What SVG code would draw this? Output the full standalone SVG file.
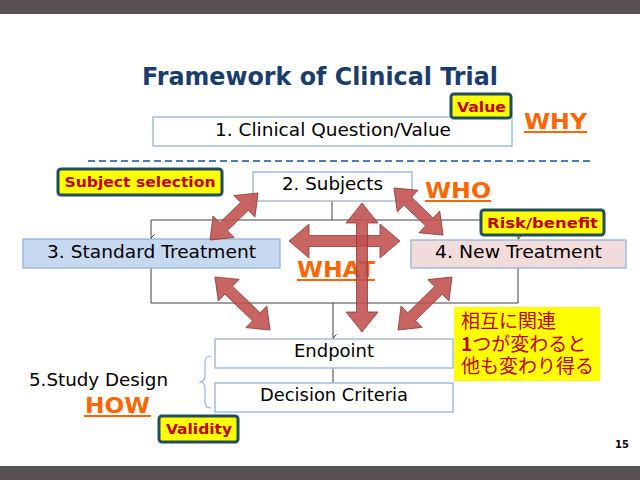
<svg xmlns="http://www.w3.org/2000/svg" width="640" height="480" viewBox="0 0 640 480">
<defs>
<style>
.box{stroke:#95b3d7;stroke-width:1.3}
.t{font-family:"DejaVu Sans","Liberation Sans",sans-serif;font-size:18.5px;fill:#000}
.em{font-family:"DejaVu Sans","Liberation Sans",sans-serif;font-weight:bold;font-size:22px;fill:#ff6600}
.ul{stroke:#ff6600;stroke-width:2}
.badge rect{fill:#ffff00;stroke:#1f4e5f;stroke-width:3}
.badge text{font-family:"DejaVu Sans","Liberation Sans",sans-serif;font-weight:bold;font-size:14px;fill:#c00000;text-anchor:middle}
.conn{fill:none;stroke:#404040;stroke-width:1}
.arr{fill:#c0504d;fill-opacity:0.88;stroke:#8c3a38;stroke-width:0.8}
.jp{font-family:"Noto Sans CJK JP",sans-serif;font-size:19px;fill:#c00000}
</style>
<marker id="ah" viewBox="0 0 8 8" refX="4" refY="7" markerWidth="8" markerHeight="8" markerUnits="userSpaceOnUse" orient="auto-start-reverse">
<path d="M0.5,3.5 L4,7 L7.5,3.5" fill="none" stroke="#404040" stroke-width="1"/>
</marker>
</defs>
<rect x="0" y="0" width="640" height="480" fill="#ffffff"/>
<rect x="0" y="0" width="640" height="14" fill="#595054"/>
<rect x="0" y="466" width="640" height="14" fill="#595054"/>
<text x="320" y="85" text-anchor="middle" textLength="356" lengthAdjust="spacingAndGlyphs" font-family="DejaVu Sans, Liberation Sans, sans-serif" font-weight="bold" font-size="25" fill="#1b3c6e">Framework of Clinical Trial</text>
<line x1="88" y1="161" x2="590" y2="161" stroke="#4a7ebb" stroke-width="2" stroke-dasharray="7,4"/>
<g id="connectors">
<path class="conn" d="M332,201 V220 M151,220 H518"/>
<path class="conn" d="M151,220 V238" marker-end="url(#ah)"/>
<path class="conn" d="M518,220 V239" marker-end="url(#ah)"/>
<path class="conn" d="M151,268 V303 H518 V268"/>
<path class="conn" d="M333,303 V338" marker-end="url(#ah)"/>
<path class="conn" d="M333,368 V383"/>
<path d="M211,356 Q205,356 205,362 V376 Q205,382 199,382 Q205,382 205,388 V402 Q205,408 211,408" fill="none" stroke="#8eb4e3" stroke-width="1.2"/>
</g>
<g id="n1"><rect class="box" x="153" y="117" width="359" height="29" fill="#ffffff"/><text class="t" x="333" y="136" text-anchor="middle" textLength="236" lengthAdjust="spacingAndGlyphs">1. Clinical Question/Value</text></g>
<g id="n2"><rect class="box" x="253" y="172" width="159" height="29" fill="#ffffff"/><text class="t" x="332.5" y="190" text-anchor="middle" textLength="101" lengthAdjust="spacingAndGlyphs">2. Subjects</text></g>
<g id="n3"><rect class="box" x="23" y="239" width="257" height="29" fill="#c6d9f1"/><text class="t" x="151.5" y="258" text-anchor="middle" textLength="209" lengthAdjust="spacingAndGlyphs">3. Standard Treatment</text></g>
<g id="n4"><rect class="box" x="411" y="240" width="215" height="28" fill="#f2dcdb"/><text class="t" x="518.5" y="258" text-anchor="middle" textLength="167" lengthAdjust="spacingAndGlyphs">4. New Treatment</text></g>
<g id="n5"><rect class="box" x="215" y="339" width="238" height="29" fill="#ffffff"/><text class="t" x="334" y="357" text-anchor="middle" textLength="80" lengthAdjust="spacingAndGlyphs">Endpoint</text></g>
<g id="n6"><rect class="box" x="215" y="383" width="238" height="29" fill="#ffffff"/><text class="t" x="334" y="401" text-anchor="middle" textLength="148" lengthAdjust="spacingAndGlyphs">Decision Criteria</text></g>
<g id="studydesign"><text class="t" x="29" y="386" textLength="139" lengthAdjust="spacingAndGlyphs">5.Study Design</text></g>
<g id="why"><text class="em" x="524" y="129" textLength="63" lengthAdjust="spacingAndGlyphs">WHY</text><line class="ul" x1="524" y1="132" x2="587" y2="132"/></g>
<g id="who"><text class="em" x="425" y="198" textLength="66" lengthAdjust="spacingAndGlyphs">WHO</text><line class="ul" x1="425" y1="201" x2="491" y2="201"/></g>
<g id="what"><text class="em" x="297" y="277" textLength="78" lengthAdjust="spacingAndGlyphs">WHAT</text><line class="ul" x1="297" y1="280" x2="375" y2="280"/></g>
<g id="how"><text class="em" x="85" y="413" textLength="65" lengthAdjust="spacingAndGlyphs">HOW</text><line class="ul" x1="84" y1="416" x2="151" y2="416"/></g>
<g id="arrows">
<path class="arr" transform="translate(234,216.5) rotate(135.6)" d="M-33.6,0 L-14.6,-15 L-14.6,-5.5 L14.6,-5.5 L14.6,-15 L33.6,0 L14.6,15 L14.6,5.5 L-14.6,5.5 L-14.6,15 Z"/>
<path class="arr" transform="translate(242.5,303.5) rotate(43.9)" d="M-38.2,0 L-19.2,-15 L-19.2,-5.5 L19.2,-5.5 L19.2,-15 L38.2,0 L19.2,15 L19.2,5.5 L-19.2,5.5 L-19.2,15 Z"/>
<path class="arr" transform="translate(418.5,211.5) rotate(43.8)" d="M-34,0 L-15,-15 L-15,-5.5 L15,-5.5 L15,-15 L34,0 L15,15 L15,5.5 L-15,5.5 L-15,15 Z"/>
<path class="arr" transform="translate(425,303.5) rotate(135.5)" d="M-37.8,0 L-18.8,-15 L-18.8,-5.5 L18.8,-5.5 L18.8,-15 L37.8,0 L18.8,15 L18.8,5.5 L-18.8,5.5 L-18.8,15 Z"/>
<path class="arr" transform="translate(344.5,241)" d="M-55.5,0 L-35.5,-17 L-35.5,-5.5 L35.5,-5.5 L35.5,-17 L55.5,0 L35.5,17 L35.5,5.5 L-35.5,5.5 L-35.5,17 Z"/>
<path class="arr" transform="translate(362,267.5) rotate(90)" d="M-64.5,0 L-44.5,-16 L-44.5,-5.5 L44.5,-5.5 L44.5,-16 L64.5,0 L44.5,16 L44.5,5.5 L-44.5,5.5 L-44.5,16 Z"/>
</g>
<g id="b-value" class="badge"><rect x="451" y="94" width="60" height="24" rx="3"/><text x="481.5" y="112" textLength="49" lengthAdjust="spacingAndGlyphs">Value</text></g>
<g id="b-subject" class="badge"><rect x="58" y="169" width="164" height="26" rx="3"/><text x="140" y="187" textLength="151" lengthAdjust="spacingAndGlyphs">Subject selection</text></g>
<g id="b-risk" class="badge"><rect x="481" y="210" width="123" height="25" rx="3"/><text x="542.5" y="228" textLength="111" lengthAdjust="spacingAndGlyphs">Risk/benefit</text></g>
<g id="b-validity" class="badge"><rect x="159" y="416" width="79" height="26" rx="3"/><text x="199" y="434" textLength="66" lengthAdjust="spacingAndGlyphs">Validity</text></g>
<g id="note">
<rect x="454" y="307" width="146" height="74" fill="#ffff00"/>
<text class="jp" x="461" y="328"><tspan x="461" y="328">相互に関連</tspan><tspan x="461" y="351"><tspan font-weight="bold">1</tspan>つが変わると</tspan><tspan x="461" y="373">他も変わり得る</tspan></text>
</g>
<text x="629" y="448" text-anchor="end" font-family="DejaVu Sans, Liberation Sans, sans-serif" font-weight="bold" font-size="10" fill="#000">15</text>
</svg>
